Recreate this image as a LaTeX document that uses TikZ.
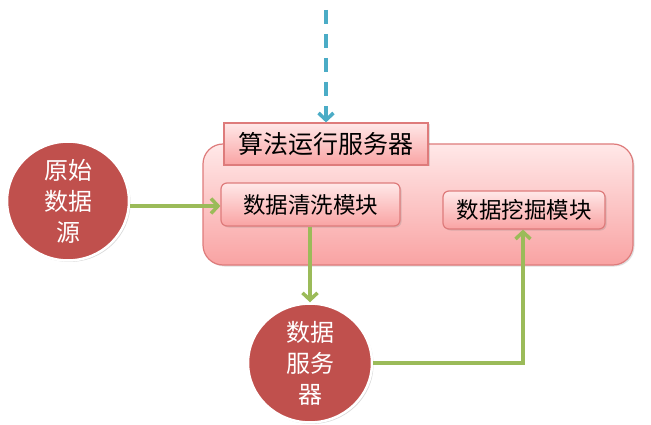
\documentclass[tikz,border=0pt]{standalone}
\usepackage{fontspec}
\newfontfamily\cjk{Noto Sans CJK SC}
\usetikzlibrary{arrows.meta,shadows,shapes.geometric}
\definecolor{ered}{HTML}{C0504D}
\definecolor{gline}{HTML}{9BBB59}
\definecolor{bline}{HTML}{4BACC6}
\definecolor{pktop}{HTML}{FFE8E8}
\definecolor{pkbot}{HTML}{F9A3A3}
\definecolor{pkborder}{HTML}{DE7B7B}
\tikzset{
  pinkbox/.style={draw=pkborder, line width=1.2pt, top color=pktop, bottom color=pkbot,
    drop shadow={shadow xshift=1.5pt, shadow yshift=-1.5pt, opacity=0.25}},
  redell/.style={ellipse, draw=white, line width=2.5pt, fill=ered, text=white,
    font=\cjk\fontsize{24}{31}\selectfont, align=center, inner sep=0pt,
    drop shadow={shadow xshift=1.5pt, shadow yshift=-1.5pt, opacity=0.3}},
  garrow/.style={draw=gline, line width=4pt, -{Straight Barb[length=7pt,width=15pt,line width=3.5pt]}},
  barrow/.style={draw=bline, line width=4pt, dash pattern=on 14pt off 10pt, -{Straight Barb[length=7pt,width=15pt,line width=3.5pt]}}
}
\begin{document}
\begin{tikzpicture}[x=1pt,y=-1pt]
\useasboundingbox (0,0) rectangle (651,425);
% big server box
\path[pinkbox, rounded corners=20pt] (203,144) rectangle (633,265);
\node[pinkbox, rounded corners=0pt, minimum width=204pt, minimum height=42pt, inner sep=0pt, font=\cjk\fontsize{25}{27}\selectfont] (title) at (326,144) {算法运行服务器};
\node[pinkbox, rounded corners=6pt, minimum width=179pt, minimum height=43pt, inner sep=0pt, font=\cjk\fontsize{22.5}{24}\selectfont] (clean) at (310.5,204.5) {数据清洗模块};
\node[pinkbox, rounded corners=6pt, minimum width=162pt, minimum height=38pt, inner sep=0pt, font=\cjk\fontsize{22.5}{24}\selectfont] (mine) at (524,210) {数据挖掘模块};
% ellipses
\node[redell, minimum width=122pt, minimum height=97pt] (src) at (68,201) {原始\\数据\\源};
\node[redell, minimum width=124pt, minimum height=106pt] (dsrv) at (310,363) {数据\\服务\\器};
% arrows
\coordinate (top) at (326,10);
\draw[barrow] (top) -- (title.north);
\draw[garrow] (src.east |- 0,206) -- (clean.west |- 0,206);
\draw[garrow] (clean.south -| 310,0) -- (dsrv.north);
\draw[garrow] (dsrv.east) -| (mine.south -| 523,0);
\end{tikzpicture}
\end{document}
